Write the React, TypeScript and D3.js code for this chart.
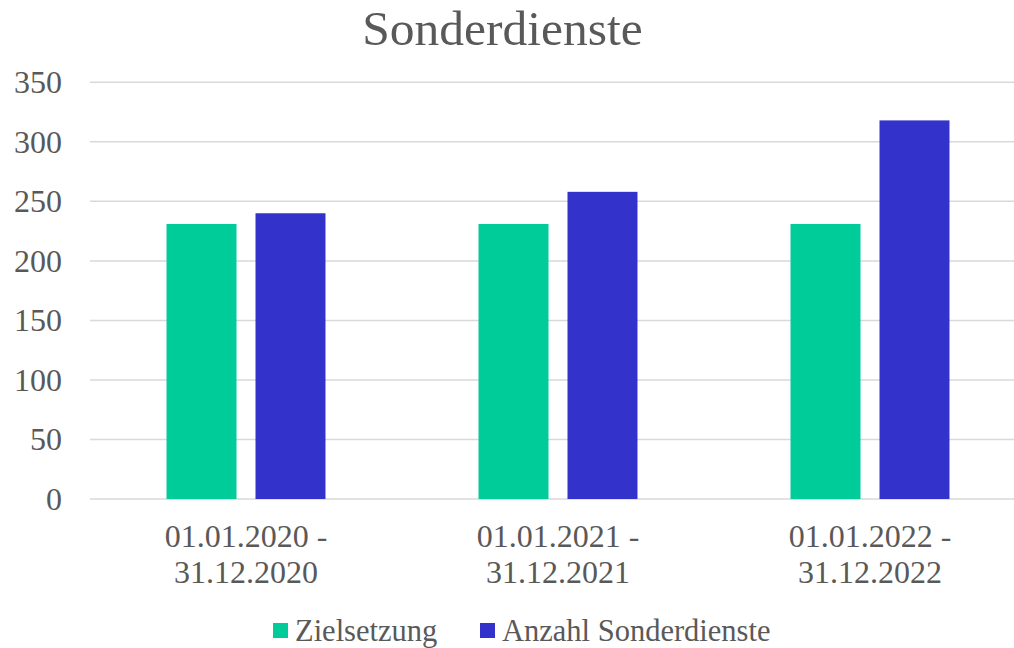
import React, { useRef, useEffect } from "react";
import * as d3 from "d3";

const categories = ["01.01.2020 - 31.12.2020", "01.01.2021 - 31.12.2021", "01.01.2022 - 31.12.2022"];
const catLines = [
  ["01.01.2020 -", "31.12.2020"],
  ["01.01.2021 -", "31.12.2021"],
  ["01.01.2022 -", "31.12.2022"],
];
const seriesNames = ["Zielsetzung", "Anzahl Sonderdienste"];
const zielsetzung = [231, 231, 231];
const anzahl = [240, 258, 318];
const yTicks = [0, 50, 100, 150, 200, 250, 300, 350];
const colors = ["#00CC99", "#3333CC"];

const App = () => {
  const svgRef = useRef<SVGSVGElement>(null);

  const drawChart = () => {
    const width = 1014;
    const height = 648;
    const font = "'Liberation Serif', 'Times New Roman', serif";
    const textColor = "#595959";

    const svg = d3.select(svgRef.current);
    svg.selectAll("*").remove();
    svg.attr("width", width).attr("height", height);

    /* scales */
    const x = d3.scaleBand().domain(categories).range([90, 1026]).padding(0);
    const xInner = d3
      .scaleBand()
      .domain(seriesNames)
      .range([0, x.bandwidth()])
      .paddingInner(0.2135)
      .paddingOuter(0.86);
    const y = d3.scaleLinear().domain([0, 350]).range([499, 82.3]);

    /* title */
    svg
      .append("text")
      .attr("x", 502.5)
      .attr("y", 45)
      .attr("text-anchor", "middle")
      .style("font-family", font)
      .style("font-size", "49.5px")
      .style("fill", textColor)
      .text("Sonderdienste");

    /* gridlines */
    svg
      .append("g")
      .selectAll("line")
      .data(yTicks)
      .enter()
      .append("line")
      .attr("x1", 90)
      .attr("x2", 1026)
      .attr("y1", (d) => y(d))
      .attr("y2", (d) => y(d))
      .attr("stroke", "#D9D9D9")
      .attr("stroke-width", 1.5);

    /* y tick labels */
    svg
      .append("g")
      .selectAll("text")
      .data(yTicks)
      .enter()
      .append("text")
      .attr("x", 62)
      .attr("y", (d) => y(d) + 11)
      .attr("text-anchor", "end")
      .style("font-family", font)
      .style("font-size", "32px")
      .style("fill", textColor)
      .text((d) => d);

    /* bars */
    const values = [zielsetzung, anzahl];
    seriesNames.forEach((s, si) => {
      svg
        .append("g")
        .selectAll("rect")
        .data(categories)
        .enter()
        .append("rect")
        .attr("x", (c) => (x(c) as number) + (xInner(s) as number))
        .attr("y", (c, i) => y(values[si][i]))
        .attr("width", xInner.bandwidth())
        .attr("height", (c, i) => y(0) - y(values[si][i]))
        .attr("fill", colors[si]);
    });

    /* category labels */
    const cat = svg
      .append("g")
      .selectAll("text")
      .data(categories)
      .enter()
      .append("text")
      .attr("text-anchor", "middle")
      .style("font-family", font)
      .style("font-size", "32px")
      .style("fill", textColor);
    cat
      .append("tspan")
      .attr("x", (c) => (x(c) as number) + x.bandwidth() / 2)
      .attr("y", 547)
      .text((c, i) => catLines[i][0]);
    cat
      .append("tspan")
      .attr("x", (c) => (x(c) as number) + x.bandwidth() / 2)
      .attr("y", 583)
      .text((c, i) => catLines[i][1]);

    /* legend */
    const legendX = [273, 480];
    const legend = svg
      .append("g")
      .selectAll("g")
      .data(seriesNames)
      .enter()
      .append("g")
      .attr("transform", (d, i) => `translate(${legendX[i]}, 623)`);
    legend
      .append("rect")
      .attr("width", 15)
      .attr("height", 15)
      .attr("fill", (d, i) => colors[i]);
    legend
      .append("text")
      .attr("x", 22)
      .attr("y", 18)
      .style("font-family", font)
      .style("font-size", "30.5px")
      .style("fill", textColor)
      .text((d) => d);
  };

  useEffect(() => {
    drawChart();
  }, []);

  return (
    <div style={{ position: "absolute", left: 0, top: 0, background: "#fff" }}>
      <svg ref={svgRef} style={{ display: "block" }} />
    </div>
  );
};

export default App;
